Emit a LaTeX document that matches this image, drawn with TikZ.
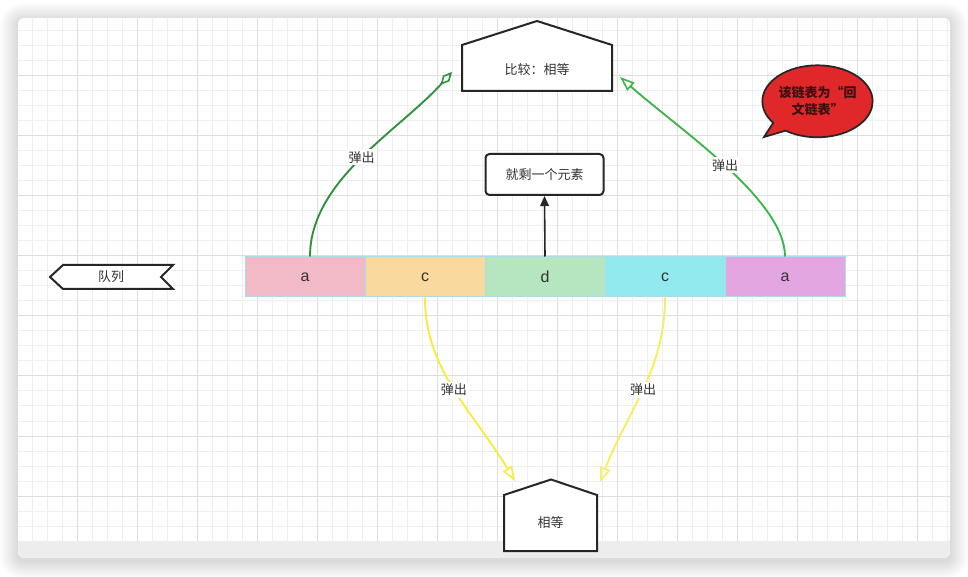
\documentclass[tikz,border=0pt]{standalone}
\usepackage{fontspec}
\setmainfont{Liberation Sans}
\newfontfamily\cjk{Noto Sans CJK SC}
\usetikzlibrary{arrows.meta,shapes.callouts,shapes.geometric}
\definecolor{cA}{HTML}{F2BAC6}
\definecolor{cC}{HTML}{F9D99E}
\definecolor{cD}{HTML}{B5E6C0}
\definecolor{cE}{HTML}{93EAEE}
\definecolor{cF}{HTML}{E3A6E0}
\definecolor{cellborder}{HTML}{A8DDEA}
\definecolor{gdark}{HTML}{2F8F3A}
\definecolor{glight}{HTML}{3EB54B}
\definecolor{yel}{HTML}{F7EB3C}
\definecolor{yel2}{HTML}{F9EE5A}
\definecolor{ink}{HTML}{262626}
\definecolor{txt}{HTML}{333333}
\definecolor{bubred}{HTML}{E0272A}
\definecolor{bubtxt}{HTML}{3A1010}
\definecolor{gridminor}{HTML}{EFEFEF}
\definecolor{gridmajor}{HTML}{DEDEDE}
\definecolor{bar}{HTML}{EDEDED}
\tikzset{
  shapeline/.style={draw=ink, line width=1.5pt, fill=white, line join=miter},
  cell/.style={draw=cellborder, line width=0.75pt, minimum width=90pt, minimum height=30pt, inner sep=0pt, font=\fontsize{12}{14}\selectfont, text=txt},
  lbl/.style={fill=white, inner sep=1.5pt, font=\cjk\fontsize{9.75}{12}\selectfont, text=txt},
  shapetext/.style={font=\cjk\fontsize{9.75}{12}\selectfont, text=txt, inner sep=0pt},
  rbox/.style={draw=ink, line width=1.5pt, rounded corners=3pt, fill=white, minimum width=88.5pt, minimum height=30.75pt, font=\cjk\fontsize{9.75}{12}\selectfont, text=txt},
  pop/.style={line width=1.4pt},
  opentip/.style={-{Triangle[open,length=11pt,width=8pt,line width=1.2pt]}},
}
\begin{document}
\begin{tikzpicture}[x=0.75pt,y=-0.75pt]
\useasboundingbox (0,0) rectangle (968,577);
% shadow
\foreach \i in {1,...,18}{
  \fill[black, opacity=0.008, rounded corners=(5+\i)*0.75pt] (18-\i,21-\i) rectangle (950+\i,561+\i);
}
% window
\begin{scope}
  \clip[rounded corners=4.5pt] (18,18) rectangle (950,558);
  \fill[white] (18,18) rectangle (950,558);
  \foreach \x in {17,32,...,950} \draw[gridminor, line width=0.75pt] (\x,18) -- (\x,542);
  \foreach \y in {16,31,...,542} \draw[gridminor, line width=0.75pt] (18,\y) -- (950,\y);
  \foreach \x in {17,77,...,950} \draw[gridmajor, line width=0.75pt] (\x,18) -- (\x,542);
  \foreach \y in {16,76,...,542} \draw[gridmajor, line width=0.75pt] (18,\y) -- (950,\y);
  \fill[bar] (18,542) rectangle (950,558);
\end{scope}

% top pentagon
\draw[shapeline] (462,91) -- (462,45) -- (537,21) -- (612,45) -- (612,91) -- cycle;
\node[shapetext] (cmp) at (537,70) {比较：相等};
\coordinate (cmpL) at (452,72);
\coordinate (cmpR) at (620,77);

% bottom pentagon
\draw[shapeline] (504,551) -- (504,495) -- (551,479.5) -- (597,495) -- (597,551) -- cycle;
\node[shapetext] (eq) at (550.5,523) {相等};
\coordinate (eqL) at (515,481);
\coordinate (eqR) at (600,482);

% one element box
\node[rbox] (one) at (544.5,174.5) {就剩一个元素};

% queue flag
\draw[shapeline] (50,277) -- (63,265) -- (173,265) -- (161,277) -- (173,289) -- (63,289) -- cycle;
\node[shapetext] (q) at (111,277) {队列};

% cells
\node[cell, fill=cA] (c1) at (305,277) {a};
\node[cell, fill=cC] (c2) at (425,277) {c};
\node[cell, fill=cD] (c3) at (545,277) {d};
\node[cell, fill=cE] (c4) at (665,277) {c};
\node[cell, fill=cF] (c5) at (785,277) {a};

% arrows
\draw[draw=ink, line width=1.2pt, -{Triangle[length=7.5pt,width=6.5pt]}] (c3.north) -- (one.south);
\draw[pop, draw=gdark, -{Diamond[open,length=13pt,width=6.5pt,line width=1.2pt]}] ([xshift=3.75pt]c1.north) .. controls (310,180) and (400,130) .. (cmpL) node[lbl, pos=0.5] {弹出};
\draw[pop, draw=glight, opentip] (c5.north) .. controls (785,200) and (680,130) .. (cmpR) node[lbl, pos=0.5] {弹出};
\draw[pop, draw=yel, opentip] (c2.south) .. controls (425,370) and (472,410) .. (eqL) node[lbl, pos=0.5] {弹出};
\draw[pop, draw=yel2, opentip] (c4.south) .. controls (665,370) and (628,410) .. (eqR) node[lbl, pos=0.5] {弹出};

% speech bubble
\node[ellipse callout, draw=ink, line width=1.3pt, fill=bubred, minimum width=79.5pt, minimum height=54pt, inner sep=0pt,
  callout absolute pointer={(764,137)}, callout pointer arc=18, align=center, text=bubtxt,
  font=\cjk\bfseries\fontsize{9.75}{13}\selectfont] (bub) at (817.5,101.3) {该链表为“回\\文链表”};
\end{tikzpicture}
\end{document}
